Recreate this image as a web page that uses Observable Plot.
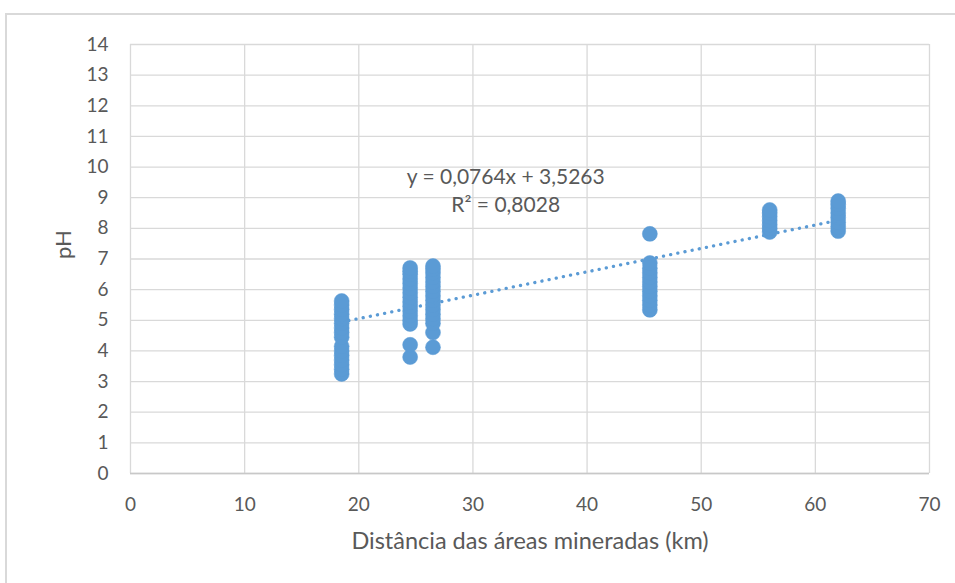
<!DOCTYPE html>
<html>
<head>
<meta charset="utf-8">
<script src="https://cdn.jsdelivr.net/npm/d3@7"></script>
<script src="https://cdn.jsdelivr.net/npm/@observablehq/plot@0.6"></script>
<style>
  html, body { margin: 0; padding: 0; background: #fff; overflow: hidden; }
  #wrap { position: relative; width: 955px; height: 583px; }
  #frame { position: absolute; left: 5px; top: 13px; width: 1100px; height: 800px; border: 2px solid #d9d9d9; box-sizing: border-box; }
  #chart { position: absolute; left: 0; top: 0; }
</style>
</head>
<body>
<div id="wrap"><div id="frame"></div><div id="chart"></div></div>
<script>
// Distances (km) of each sampling site
const distances = [18.5, 24.5, 26.5, 45.5, 56, 62];
// pH readings at each site
const phSite1 = [3.25, 3.4, 3.55, 3.7, 3.85, 4.0, 4.15, 4.45, 4.6, 4.75, 4.9, 5.05, 5.2, 5.35, 5.5, 5.63];
const phSite2 = [3.8, 4.2, 4.88, 5.0, 5.15, 5.3, 5.45, 5.6, 5.75, 5.9, 6.05, 6.2, 6.35, 6.5, 6.6, 6.71];
const phSite3 = [4.12, 4.6, 4.9, 5.05, 5.2, 5.35, 5.5, 5.65, 5.8, 5.95, 6.1, 6.25, 6.4, 6.55, 6.67, 6.77];
const phSite4 = [5.34, 5.5, 5.65, 5.8, 5.95, 6.1, 6.25, 6.4, 6.55, 6.7, 6.87, 7.82];
const phSite5 = [7.88, 8.0, 8.12, 8.25, 8.38, 8.5, 8.6];
const phSite6 = [7.91, 8.05, 8.2, 8.35, 8.5, 8.65, 8.78, 8.89];
const phBySite = [phSite1, phSite2, phSite3, phSite4, phSite5, phSite6];

// Trendline coefficients (as printed) and label
const slope = 0.0764;
const intercept = 3.5263;
const trendRange = [18.5, 62];
const equationLines = ["y = 0,0764x + 3,5263", "R² = 0,8028"];
const equationAnchor = {x: 32.87, y: [9.66, 8.75]};

const xTicks = [0, 10, 20, 30, 40, 50, 60, 70];
const yTicks = d3.range(0, 15);
const xTitle = "Distância das áreas mineradas (km)";
const yTitle = "pH";

const points = phBySite.flatMap((arr, i) => arr.map(v => ({x: distances[i], y: v})));
const trend = trendRange.map(x => ({x, y: intercept + slope * x}));
const eqData = equationLines.map((t, i) => ({t, x: equationAnchor.x, y: equationAnchor.y[i]}));

const blue = "#5B9BD5";
const grey = "#595959";
const font = "Lato, 'Open Sans', sans-serif";

const chart = Plot.plot({
  width: 955,
  height: 583,
  marginLeft: 130,
  marginRight: 26,
  marginTop: 44,
  marginBottom: 110,
  style: {fontFamily: font, background: "transparent"},
  x: {domain: [0, 70]},
  y: {domain: [0, 14]},
  marks: [
    Plot.gridX(xTicks, {stroke: "#d9d9d9", strokeOpacity: 1, strokeWidth: 1.3}),
    Plot.gridY(yTicks, {stroke: "#d9d9d9", strokeOpacity: 1, strokeWidth: 1.3}),
    Plot.ruleY([0], {stroke: "#c8c8c8", strokeWidth: 1.6}),
    Plot.axisX(xTicks, {tickSize: 0, tickPadding: 24, fontSize: 19, fill: grey, label: null}),
    Plot.axisY(yTicks, {tickSize: 0, tickPadding: 22, fontSize: 19, fill: grey, label: null}),
    Plot.dot(points, {x: "x", y: "y", r: 7.5, fill: blue, stroke: blue, strokeWidth: 0.5}),
    Plot.line(trend, {x: "x", y: "y", stroke: blue, strokeWidth: 3.3, strokeDasharray: "0.1 7.2", strokeLinecap: "round"}),
    Plot.text(eqData, {x: "x", y: "y", text: "t", fontSize: 21, fill: grey}),
    Plot.text([xTitle], {frameAnchor: "bottom", dy: 75, fontSize: 23.5, fill: grey}),
    Plot.text([yTitle], {frameAnchor: "left", dx: -67, rotate: -90, fontSize: 22, fill: grey})
  ]
});
document.getElementById("chart").appendChild(chart);
</script>
</body>
</html>
